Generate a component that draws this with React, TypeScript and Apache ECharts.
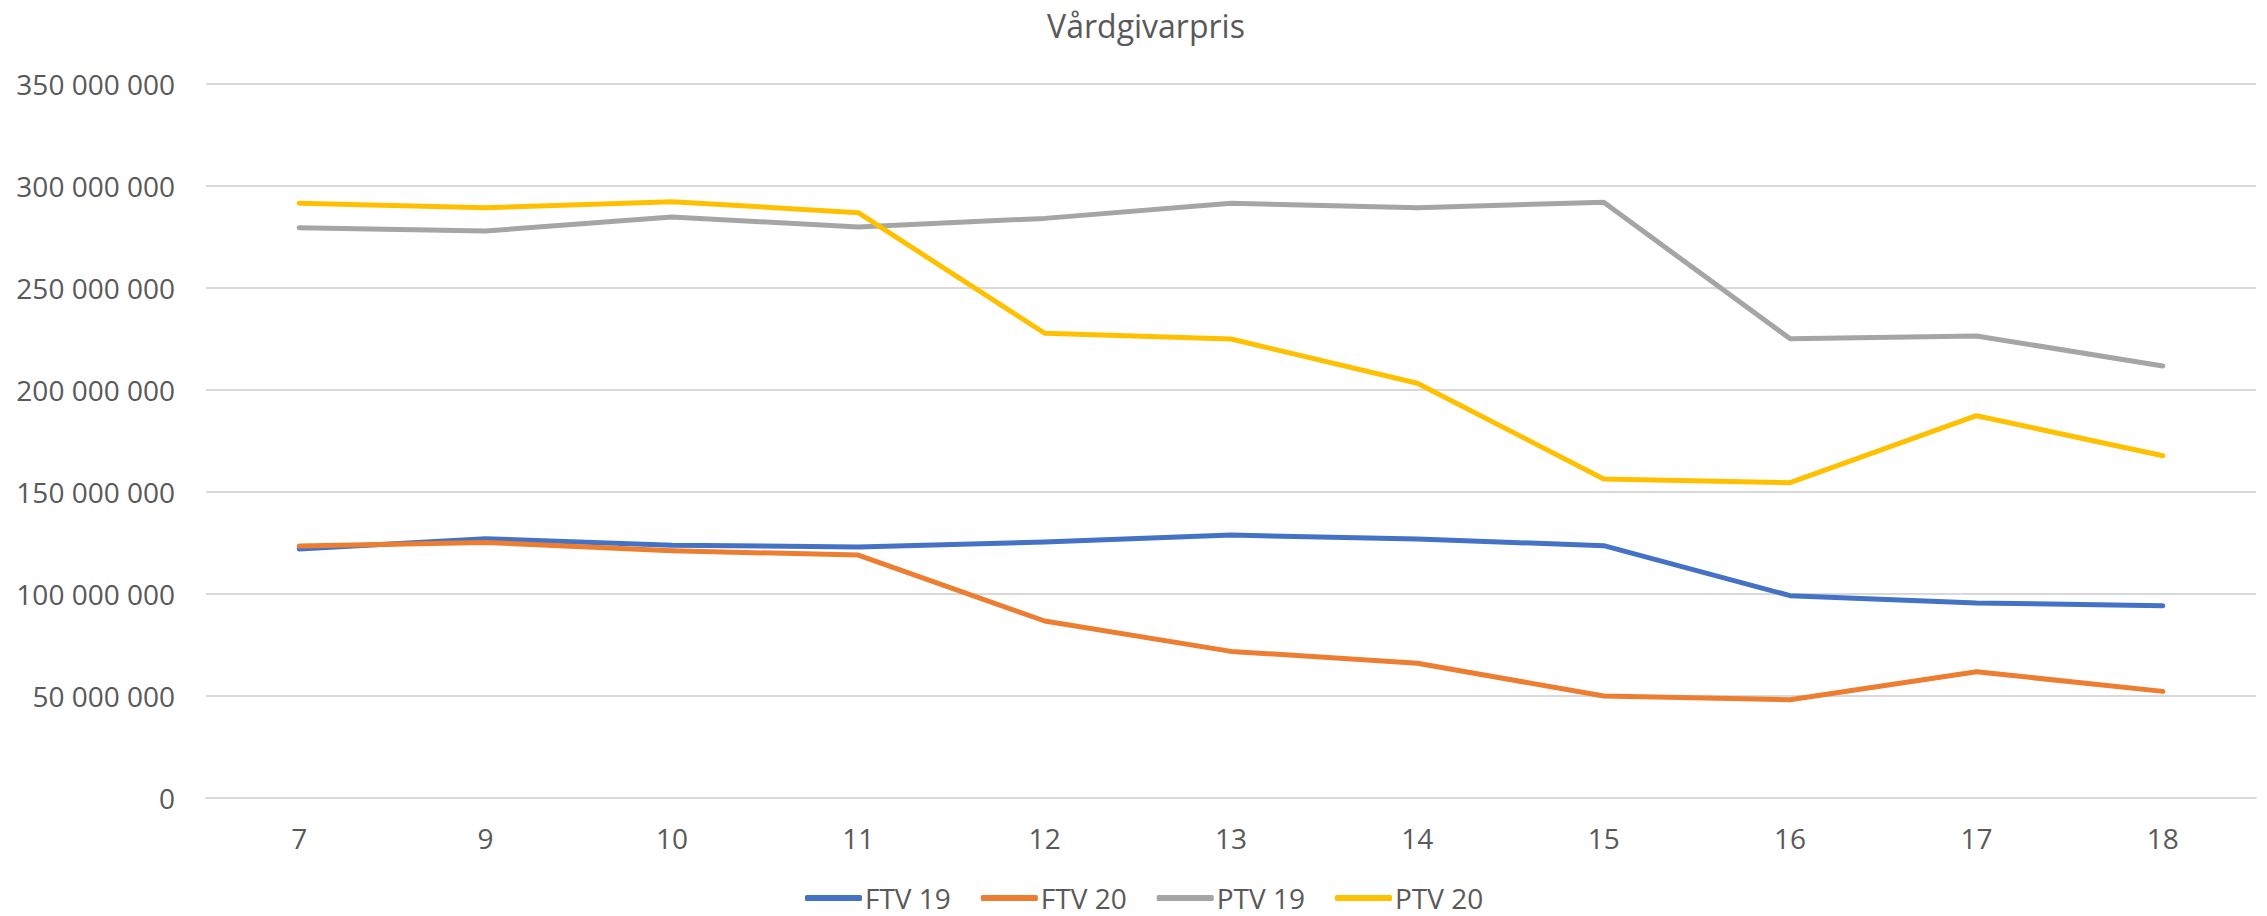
import React, { useEffect, useRef } from "react";
import * as echarts from "echarts";

const categories = ["7", "9", "10", "11", "12", "13", "14", "15", "16", "17", "18"];
const ftv19 = [121.9, 126.9, 123.7, 122.9, 125.3, 128.7, 126.8, 123.5, 99.0, 95.4, 94.1].map((v) => v * 1e6);
const ftv20 = [123.3, 125.1, 121.0, 118.9, 86.6, 71.7, 65.9, 49.8, 48.0, 61.7, 52.1].map((v) => v * 1e6);
const ptv19 = [279.3, 277.7, 284.6, 279.7, 283.9, 291.3, 289.1, 291.8, 224.9, 226.3, 211.6].map((v) => v * 1e6);
const ptv20 = [291.3, 289.1, 292.1, 286.7, 227.6, 224.8, 203.1, 156.2, 154.4, 187.2, 167.6].map((v) => v * 1e6);
const seriesNames = ["FTV 19", "FTV 20", "PTV 19", "PTV 20"];
const seriesColors = ["#4472C4", "#ED7D31", "#A5A5A5", "#FFC000"];
const title = "Vårdgivarpris";

const FONT = "'Open Sans', 'DejaVu Sans', sans-serif";
const TEXT = "#595959";

function fmt(v: number): string {
  return String(Math.round(v)).replace(/\B(?=(\d{3})+(?!\d))/g, " ");
}

export default function App() {
  const ref = useRef<HTMLDivElement>(null);
  useEffect(() => {
    if (!ref.current) return;
    const chart = echarts.init(ref.current, undefined, { renderer: "svg" });
    const data = [ftv19, ftv20, ptv19, ptv20];
    chart.setOption({
      animation: false,
      backgroundColor: "#ffffff",
      textStyle: { fontFamily: FONT },
      title: {
        text: title,
        left: 1141,
        top: 4,
        textAlign: "center",
        textStyle: { fontFamily: FONT, fontSize: 32, fontWeight: "normal", color: TEXT },
      },
      legend: {
        left: 805,
        top: 884,
        padding: 0,
        itemWidth: 57,
        itemHeight: 6,
        itemGap: 30,
        icon: "roundRect",
        textStyle: { fontFamily: FONT, fontSize: 28, lineHeight: 28, color: TEXT, padding: [0, 0, 0, -2] },
        data: seriesNames,
      },
      grid: { left: 206, right: 11, top: 83.5, bottom: 118.3, containLabel: false },
      xAxis: {
        type: "category",
        data: categories,
        boundaryGap: true,
        axisLine: { show: true, lineStyle: { color: "#D9D9D9", width: 2 } },
        axisTick: { show: false },
        axisLabel: { fontFamily: FONT, fontSize: 28, color: TEXT, margin: 26 },
        splitLine: { show: false },
      },
      yAxis: {
        type: "value",
        min: 0,
        max: 350000000,
        interval: 50000000,
        axisLine: { show: false },
        axisTick: { show: false },
        axisLabel: { fontFamily: FONT, fontSize: 28, color: TEXT, margin: 31, formatter: fmt },
        splitLine: { show: true, lineStyle: { color: "#D9D9D9", width: 2 } },
      },
      series: seriesNames.map((name, i) => ({
        name,
        type: "line",
        data: data[i],
        showSymbol: false,
        symbol: "none",
        color: seriesColors[i],
        lineStyle: { color: seriesColors[i], width: 5, cap: "round", join: "round" },
        itemStyle: { color: seriesColors[i] },
      })),
    });
    return () => chart.dispose();
  }, []);
  return (
    <div
      ref={ref}
      style={{ position: "absolute", left: 0, top: 0, width: 2267, height: 916 }}
    />
  );
}
